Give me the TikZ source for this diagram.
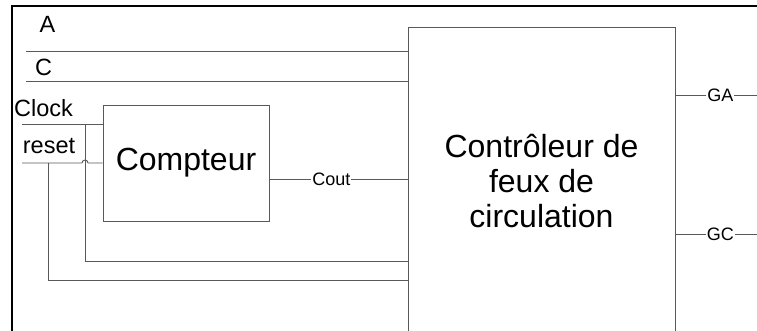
\documentclass[tikz,border=0pt]{standalone}
\usepackage{fontspec}
\setmainfont{Liberation Sans}

\begin{document}
\begin{tikzpicture}[x=1pt,y=-1pt,
    wire/.style={draw=black!65,line width=0.9pt},
    blk/.style={draw=black!65,line width=0.9pt,inner sep=0pt,align=center,
      font=\fontsize{32}{35}\selectfont},
    lbl/.style={anchor=base,inner sep=0pt,font=\fontsize{23.5}{26}\selectfont},
    tag/.style={fill=white,inner sep=1pt,font=\fontsize{18}{20}\selectfont}]
      \useasboundingbox (0,0) rectangle (757,331);
      \clip (0,0) rectangle (757,331);

      % frame
      \draw[line width=2.5pt] (12,340) -- (12,6) -- (760,6);

      \node[blk,minimum width=166pt,minimum height=116pt] (cpt) at (186,163) {Compteur};
      \node[blk,minimum width=267pt,minimum height=308pt] (ctrl) at (541.5,181)
        {Contr\^oleur de\\feux de\\circulation};

      % inputs
      \node[lbl] (lA) at (47.5,33) {A};
      \node[lbl] (lC) at (43.5,76) {C};
      \node[lbl] (lclk) at (43.5,117) {Clock};
      \node[lbl] (lrst) at (49,154) {reset};

      \coordinate (a) at (26,51);
      \coordinate (c) at (26,81);
      \draw[wire] (a) -- (a -| ctrl.west);
      \draw[wire] (c) -- (c -| ctrl.west);

      \coordinate (clk) at (22,124);
      \coordinate (clkj) at (85,124);
      \coordinate (clkb) at (85,261);
      \draw[wire] (clk) -- (clk -| cpt.west);
      \draw[wire] (clkj) -- (clkb) -- (clkb -| ctrl.west);

      \coordinate (rst) at (22,163);
      \coordinate (rstj) at (48,163);
      \coordinate (rstb) at (48,280);
      \draw[wire] (rst) -- (82,163) arc (180:360:3) -- (rst -| cpt.west);
      \draw[wire] (rstj) -- (rstb) -- (rstb -| ctrl.west);

      \coordinate (co) at (269,179);
      \draw[wire] (co) -- (co -| ctrl.west) node[tag,pos=0.45] {Cout};

      % outputs
      \coordinate (ga) at (760,95);
      \coordinate (gc) at (760,234);
      \draw[wire] (ga -| ctrl.east) -- (ga) node[tag,pos=0.53] {GA};
      \draw[wire] (gc -| ctrl.east) -- (gc) node[tag,pos=0.53] {GC};
\end{tikzpicture}
\end{document}
